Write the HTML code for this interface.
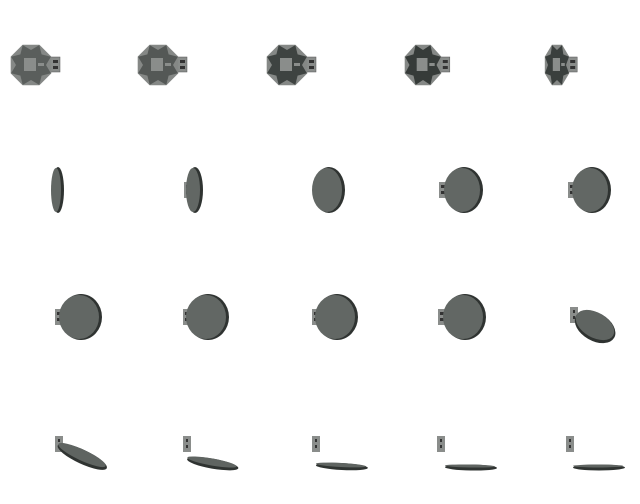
<!DOCTYPE html>
<html><head><meta charset="utf-8"><style>body{margin:0;background:#fff}svg{display:block}</style></head>
<body>
<svg width="640" height="504" viewBox="0 0 640 504" id="s"></svg>
<script>
const NS='http://www.w3.org/2000/svg';
const s=document.getElementById('s');
function el(t,a,p){const e=document.createElementNS(NS,t);for(const k in a)e.setAttribute(k,a[k]);(p||s).appendChild(e);return e;}
// gear views (row 1): cx, cy, scaleX, body color
const gearCx=[31,158,287,423,557];
const gearSx=[1,1,1,0.9,0.6];
const gearCol=['#5a5e5c','#545856','#3e4341','#363b39','#3a3f3d'];
gearCx.forEach((cx,i)=>{
  const g=el('g',{});
  
  
  s.appendChild(g);
  const sx=gearSx[i],cy=65,R=22;
  // tab
  el('rect',{x:cx+R*sx-3,y:57,width:10,height:15,fill:'#8a8d8b',stroke:'#555',"stroke-width":0.5},g);
  el('rect',{x:cx+R*sx,y:60,width:5,height:3,fill:'#333'},g);
  el('rect',{x:cx+R*sx,y:66,width:5,height:3,fill:'#333'},g);
  // octagon base light
  let pts=[];for(let k=0;k<8;k++){const a=Math.PI/8+k*Math.PI/4;pts.push((cx+R*sx*Math.cos(a)).toFixed(1)+','+(cy+R*Math.sin(a)).toFixed(1));}
  el('polygon',{points:pts.join(' '),fill:'#858886'},g);
  // star
  pts=[];for(let k=0;k<16;k++){const a=k*Math.PI/8;const r=k%2?R*0.98:R*0.68;pts.push((cx+r*sx*Math.cos(a)).toFixed(1)+','+(cy+r*Math.sin(a)).toFixed(1));}
  el('polygon',{points:pts.join(' '),fill:gearCol[i]},g);
  el('rect',{x:cx-7*sx,y:cy-7,width:12*sx,height:13,fill:'#8a8d8b'},g);
  el('rect',{x:cx+7*sx,y:cy-2,width:6*sx,height:3,fill:'#8a8d8b'},g);
});
// disc views rows 2-3: cx, cy, rx, tab x
const discCx=[56,193,327,462,590,79,206,335,463];
const discCy=[190,190,190,190,190,317,317,317,317];
const discRx=[5,7,15,18,18,20,20,20,20];
const tabX=[54,184,318,439,568,55,183,312,438];
discCx.forEach((cx,i)=>{
  const g=el('g',{});
  
  
  s.appendChild(g);
  const cy=discCy[i];
  el('rect',{x:tabX[i],y:cy-8,width:9,height:16,fill:'#8a8d8b'},g);
  el('rect',{x:tabX[i]+2,y:cy-5,width:4,height:3,fill:'#333'},g);
  el('rect',{x:tabX[i]+2,y:cy+1,width:4,height:3,fill:'#333'},g);
  el('ellipse',{cx:cx+2,cy:cy,rx:discRx[i]+1,ry:23,fill:'#2f3331'},g);
  el('ellipse',{cx:cx,cy:cy,rx:discRx[i],ry:22,fill:'#626764'},g);
});
// tilted discs: cx, cy, rx, ry, angle, tab x
const tCx=[595,82,212,341,470,598];
const tCy=[325,455,462,465,466,466];
const tRx=[22,27,26,26,26,26];
const tRy=[14,7,5,3.5,3,3];
const tAng=[30,25,10,3,1,0];
const tTab=[570,55,183,312,437,566];
const tTabY=[307,436,436,436,436,436];
tCx.forEach((cx,i)=>{
  const g=el('g',{});
  
  
  s.appendChild(g);
  el('rect',{x:tTab[i],y:tTabY[i],width:8,height:16,fill:'#8a8d8b'},g);
  el('rect',{x:tTab[i]+3,y:tTabY[i]+3,width:2,height:3,fill:'#333'},g);
  el('rect',{x:tTab[i]+3,y:tTabY[i]+9,width:2,height:3,fill:'#333'},g);
  el('ellipse',{cx:cx+1,cy:tCy[i]+1.5,rx:tRx[i],ry:tRy[i],fill:'#2f3331',transform:`rotate(${tAng[i]} ${cx} ${tCy[i]})`},g);
  el('ellipse',{cx:cx,cy:tCy[i],rx:tRx[i]-1,ry:Math.max(tRy[i]-1.5,1.5),fill:'#5f6461',transform:`rotate(${tAng[i]} ${cx} ${tCy[i]})`},g);
});
</script>
</body></html>
